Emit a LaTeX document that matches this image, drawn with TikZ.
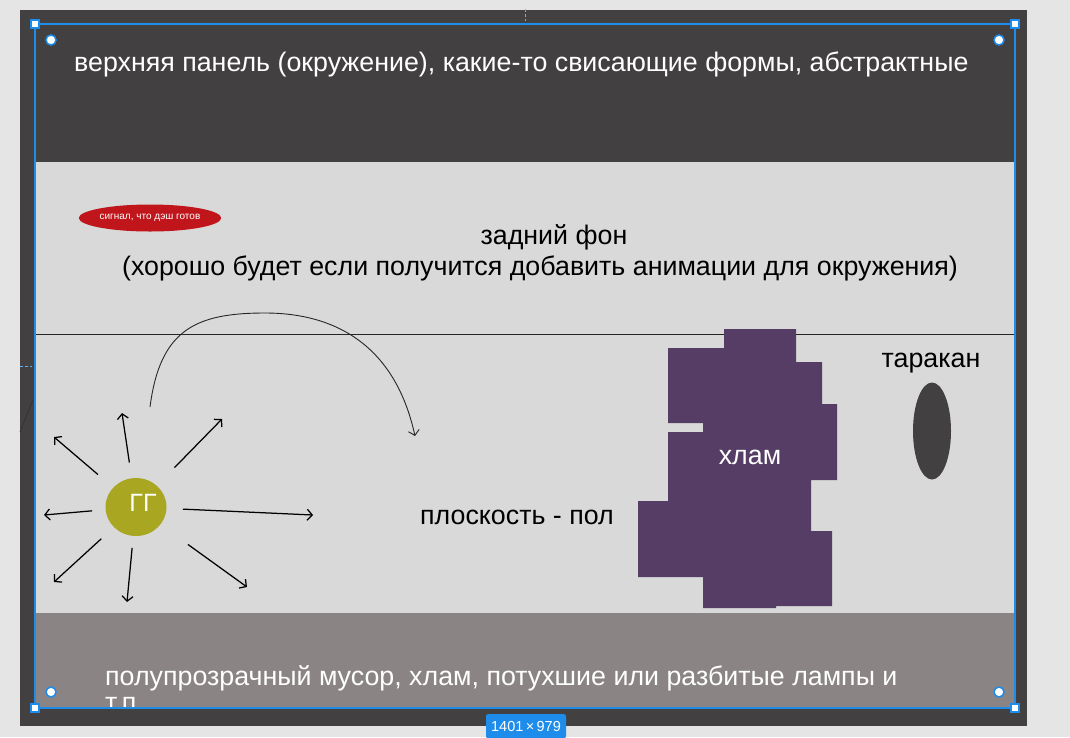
\documentclass[tikz,border=0pt]{standalone}
\usepackage{fontspec}
\setmainfont{Liberation Sans}
\usetikzlibrary{shapes.geometric,arrows.meta,calc}
\definecolor{pagebg}{HTML}{E5E5E5}
\definecolor{framegrey}{HTML}{434041}
\definecolor{canvasgrey}{HTML}{D9D9D9}
\definecolor{floorgrey}{HTML}{8A8484}
\definecolor{selblue}{HTML}{1E8CEB}
\definecolor{signalred}{HTML}{C0161B}
\definecolor{olive}{HTML}{A9A622}
\definecolor{junk}{HTML}{553D66}
\tikzset{
  bigtext/.style={font=\fontsize{26.8}{31}\selectfont, inner sep=0pt},
  ray/.style={draw=black, line width=1.25pt, -{Straight Barb[length=5pt,width=11pt]}},
  handle/.style={draw=selblue, fill=white, line width=1.2pt, minimum size=8pt, inner sep=0pt},
  knob/.style={circle, draw=selblue, fill=white, line width=1.5pt, minimum size=10pt, inner sep=0pt},
}
\begin{document}
\begin{tikzpicture}[x=1pt,y=-1pt]
\useasboundingbox (0,0) rectangle (1070,737);
\fill[pagebg] (0,0) rectangle (1070,737);
\fill[framegrey] (20,10) rectangle (1027,726);
\fill[canvasgrey] (36,162) rectangle (1014,613);
\fill[floorgrey] (36,613) rectangle (1014,708);
% horizon line
\draw[black!85, line width=0.8pt] (36,334) -- (1014,334);
% small marks on the frame
\draw[selblue!70!white, dash pattern=on 3pt off 2pt, line width=0.8pt] (525,9) -- (525,21);
\draw[selblue!70!white, dash pattern=on 3pt off 2pt, line width=0.8pt] (20,366) -- (32,366);
\draw[black!80, line width=0.8pt] (33,400) -- (20,432);

% top panel text
\node[bigtext, text=white, anchor=base west] (toptext) at (74,71)
  {верхняя панель (окружение), какие-то свисающие формы, абстрактные};

% signal ellipse
\node[ellipse, fill=signalred, minimum width=139pt, minimum height=27pt, inner sep=0pt,
      text=white, font=\fontsize{10}{11}\selectfont] (signal) at (150,218) {сигнал, что дэш готов};

% background text
\node[bigtext, anchor=base] (bg1) at (554,244) {задний фон};
\node[bigtext, anchor=base] (bg2) at (540,275) {(хорошо будет если получится добавить анимации для окружения)};

% hero
\node[ellipse, fill=olive, minimum width=61pt, minimum height=58pt, inner sep=0pt] (gg) at (136,507) {};
\node[font=\fontsize{25}{30}\selectfont, text=white, anchor=base, inner sep=0pt] (ggtext) at (143,511) {ГГ};

\coordinate (e1) at (54,437);
\coordinate (e2) at (122,413);
\coordinate (e3) at (222,419);
\coordinate (e4) at (44,515);
\coordinate (e5) at (313,515);
\coordinate (e6) at (54,582);
\coordinate (e7) at (127,602);
\coordinate (e8) at (247,587);
\draw[ray, shorten <=50pt] (gg.center) -- (e1);
\draw[ray, shorten <=45pt] (gg.center) -- (e2);
\draw[ray, shorten <=55pt] (gg.center) -- (e3);
\draw[ray, shorten <=44pt] (gg.center) -- (e4);
\draw[ray, shorten <=47pt] (gg.center) -- (e5);
\draw[ray, shorten <=47pt] (gg.center) -- (e6);
\draw[ray, shorten <=41pt] (gg.center) -- (e7);
\draw[ray, shorten <=64pt] (gg.center) -- (e8);

% jump curve
\coordinate (jstart) at (150,407);
\coordinate (jtop) at (265,313);
\coordinate (jend) at (415,436);
\draw[black!85, line width=0.9pt, -{Straight Barb[length=5pt,width=11pt]}]
  (jstart) .. controls (160,330) and (195,313) .. (jtop)
  .. controls (335,313) and (395,345) .. (jend);

% floor text
\node[bigtext, anchor=base] (floor) at (517,524) {плоскость - пол};

% junk
\fill[junk] (724,329) -- (796,329) -- (796,362) -- (822,362) -- (822,404) -- (837,404)
  -- (837,480) -- (811,480) -- (811,531) -- (832,531) -- (832,606) -- (776,606)
  -- (776,608) -- (703,608) -- (703,577) -- (638,577) -- (638,501) -- (668,501)
  -- (668,432) -- (703,432) -- (703,423) -- (668,423) -- (668,348) -- (724,348) -- cycle;
\node[bigtext, text=white, anchor=base] (junktext) at (750,464) {хлам};

% cockroach
\node[bigtext, anchor=base] (roachtext) at (931,367) {таракан};
\node[ellipse, fill=framegrey, minimum width=38pt, minimum height=97pt, inner sep=0pt] (roach) at (932,431) {};

% bottom text, clipped
\begin{scope}
  \clip (36,613) rectangle (1014,708);
  \node[bigtext, text=white, anchor=base west] (bottom1) at (105,685)
    {полупрозрачный мусор, хлам, потухшие или разбитые лампы и};
  \node[bigtext, text=white, anchor=base west] (bottom2) at (105,711) {т.п.};
\end{scope}

% selection
\draw[selblue, line width=2.2pt] (35,24) rectangle (1015,708);
\node[handle] (h1) at (35,24) {};
\node[handle] (h2) at (1015,24) {};
\node[handle] (h3) at (35,708) {};
\node[handle] (h4) at (1015,708) {};
\node[knob] (k1) at (51,40) {};
\node[knob] (k2) at (999,40) {};
\node[knob] (k3) at (51,692) {};
\node[knob] (k4) at (999,692) {};
\node[fill=selblue, text=white, rounded corners=2pt, font=\fontsize{14.5}{15}\selectfont,
      minimum width=80pt, minimum height=24pt, inner sep=0pt, anchor=north] (size) at (526,714) {1401\,×\,979};
\end{tikzpicture}
\end{document}
